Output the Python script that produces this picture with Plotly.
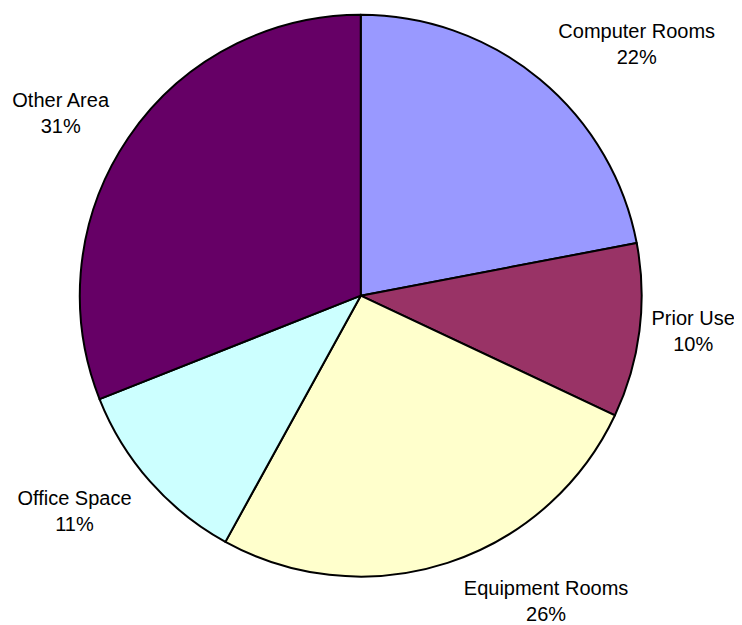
import plotly.graph_objects as go

labels = ["Computer Rooms", "Prior Use", "Equipment Rooms", "Office Space", "Other Area"]
values = [22, 10, 26, 11, 31]
colors = ["#9999FF", "#993366", "#FFFFCC", "#CCFFFF", "#660066"]

W, H = 742, 625
cx, cy, r = 348.5, 285.5, 284

base = "%{label}<br>%{percent:.0%}"
pad = "\u00a0"
templates = [
    base + "<br>" + pad,                                                  # Computer Rooms
    base,                                                                 # Prior Use
    "<span style='font-size:10px'>" + pad + "</span><br>" + base,        # Equipment Rooms
    pad + "<br>" + base,                                                  # Office Space
    base + "<br>" + pad,                                                  # Other Area
]

fig = go.Figure(go.Pie(
    labels=labels,
    values=values,
    sort=False,
    direction="clockwise",
    rotation=0,
    marker=dict(colors=colors, line=dict(color="black", width=2)),
    texttemplate=templates,
    textposition="outside",
    textfont=dict(family="Liberation Sans, Arial, sans-serif", size=20, color="black"),
    domain=dict(x=[(cx - r) / W, (cx + r) / W], y=[1 - (cy + r) / H, 1 - (cy - r) / H]),
    showlegend=False,
    hoverinfo="label+percent",
))

fig.update_layout(
    width=W, height=H,
    margin=dict(l=0, r=0, t=0, b=0),
    paper_bgcolor="white",
    plot_bgcolor="white",
)

fig.write_html("out.html")
